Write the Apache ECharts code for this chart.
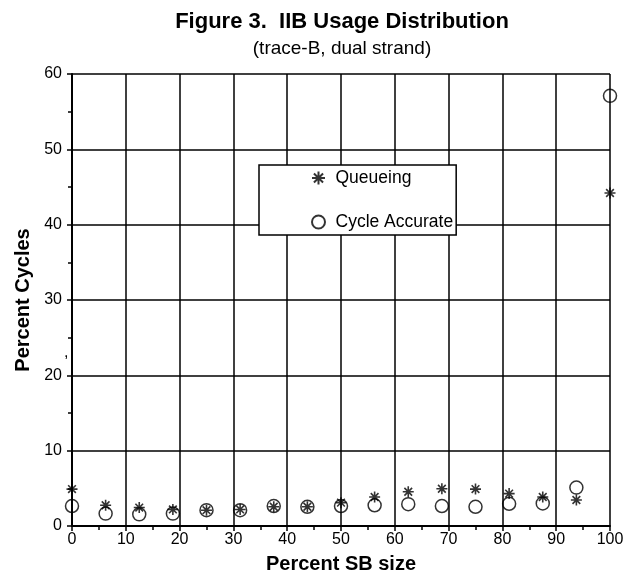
<!DOCTYPE html>
<html>
<head>
<meta charset="utf-8">
<script src="https://cdn.jsdelivr.net/npm/echarts@6/dist/echarts.min.js"></script>
<style>
html,body{margin:0;padding:0;background:#fff;}
#chart{width:637px;height:573px;}
</style>
</head>
<body>
<div id="chart"></div>
<script>
var sbSize = [0, 6.25, 12.5, 18.75, 25, 31.25, 37.5, 43.75, 50, 56.25, 62.5, 68.75, 75, 81.25, 87.5, 93.75, 100];
var queueing = [4.9, 2.75, 2.45, 2.2, 2.1, 2.2, 2.55, 2.55, 3.1, 3.85, 4.55, 4.95, 4.9, 4.3, 3.85, 3.45, 44.2];
var cycleAccurate = [2.65, 1.65, 1.55, 1.65, 2.1, 2.1, 2.65, 2.55, 2.65, 2.75, 2.9, 2.65, 2.55, 2.95, 3.0, 5.1, 57.1];
var xTicks = [0, 10, 20, 30, 40, 50, 60, 70, 80, 90, 100];
var yTicks = [0, 10, 20, 30, 40, 50, 60];

function pairs(xs, ys) { return xs.map(function (x, i) { return [x, ys[i]]; }); }

var FONT = '"Liberation Sans", Arial, sans-serif';
var starPath = 'path://M5,0L5,10M0,5L10,5M1.5,1.5L8.5,8.5M1.5,8.5L8.5,1.5';

var chart = echarts.init(document.getElementById('chart'));
chart.setOption({
  animation: false,
  backgroundColor: '#fff',
  textStyle: { fontFamily: FONT, color: '#000' },
  title: [
    { text: 'Figure 3.  IIB Usage Distribution', left: 342, top: 11, textAlign: 'center', padding: 0,
      textStyle: { fontFamily: FONT, fontSize: 22, fontWeight: 'bold', color: '#000' } },
    { text: '(trace-B, dual strand)', left: 342, top: 39, textAlign: 'center', padding: 0,
      textStyle: { fontFamily: FONT, fontSize: 19, fontWeight: 'normal', color: '#000' } }
  ],
  grid: { left: 72, right: 27, top: 74, bottom: 47, containLabel: false, outerBoundsMode: 'none' },
  legend: {
    left: 259, top: 165, orient: 'vertical',
    backgroundColor: '#fff', borderColor: '#000', borderWidth: 1.5,
    padding: [4, 3, 4, 52], itemGap: 26, itemWidth: 24, itemHeight: 13,
    textStyle: { fontFamily: FONT, fontSize: 17.5, color: '#000' },
    data: ['Queueing', 'Cycle Accurate']
  },
  xAxis: {
    type: 'value', min: 0, max: 100, interval: 10,
    name: 'Percent SB size', nameLocation: 'middle', nameGap: 28,
    nameTextStyle: { fontFamily: FONT, fontSize: 20, fontWeight: 'bold', color: '#000' },
    axisLine: { lineStyle: { color: '#000', width: 2 } },
    axisTick: { show: true, length: 5, lineStyle: { color: '#000', width: 1.5 } },
    minorTick: { show: true, splitNumber: 2, length: 4, lineStyle: { color: '#000', width: 1.5 } },
    splitLine: { show: true, lineStyle: { color: '#000', width: 1.5 } },
    axisLabel: { fontFamily: FONT, fontSize: 16, color: '#000', margin: 6,
      formatter: function (v) { return xTicks.indexOf(v) >= 0 ? String(v) : ''; } }
  },
  yAxis: {
    type: 'value', min: 0, max: 60, interval: 10,
    name: 'Percent Cycles', nameLocation: 'middle', nameGap: 39,
    nameTextStyle: { fontFamily: FONT, fontSize: 20, fontWeight: 'bold', color: '#000' },
    axisLine: { show: true, lineStyle: { color: '#000', width: 2 } },
    axisTick: { show: true, length: 5, lineStyle: { color: '#000', width: 1.5 } },
    minorTick: { show: true, splitNumber: 2, length: 4, lineStyle: { color: '#000', width: 1.5 } },
    splitLine: { show: true, lineStyle: { color: '#000', width: 1.5 } },
    axisLabel: { fontFamily: FONT, fontSize: 16, color: '#000', margin: 10,
      formatter: function (v) { return yTicks.indexOf(v) >= 0 ? String(v) : ''; } }
  },
  graphic: [
    { type: 'text', left: 64, top: 345, style: { text: ',', fontFamily: FONT, fontSize: 16, fill: '#000' } }
  ],
  series: [
    {
      name: 'Queueing', type: 'scatter', symbol: starPath, symbolSize: 11,
      itemStyle: { color: '#000', borderColor: '#000', borderWidth: 1.6 },
      data: pairs(sbSize, queueing), z: 3
    },
    {
      name: 'Cycle Accurate', type: 'scatter', symbol: 'circle', symbolSize: 13,
      itemStyle: { color: 'rgba(255,255,255,0)', borderColor: '#000', borderWidth: 1.5 },
      data: pairs(sbSize, cycleAccurate), z: 3
    }
  ]
});
</script>
</body>
</html>
